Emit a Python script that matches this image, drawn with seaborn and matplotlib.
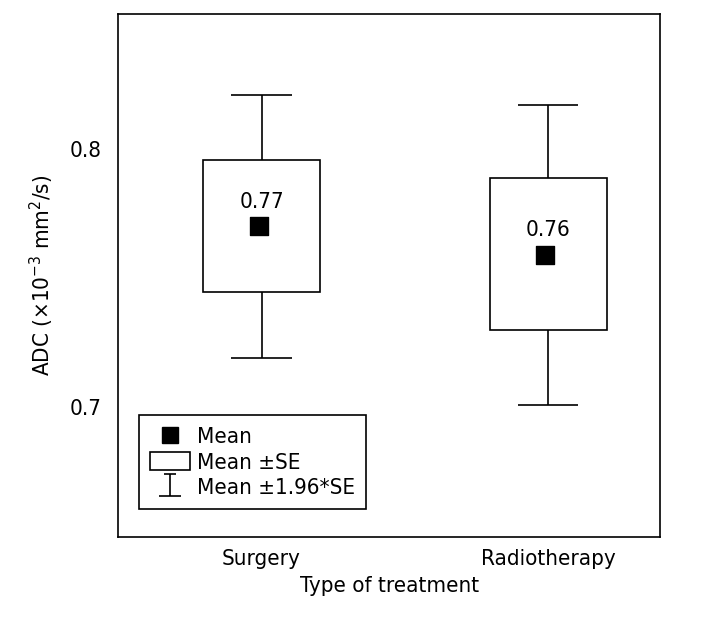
import matplotlib
matplotlib.use('Agg')

import numpy as np
import pandas as pd
import matplotlib.pyplot as plt
import seaborn as sns
from matplotlib.lines import Line2D
from matplotlib.patches import Patch
from matplotlib.path import Path

# -------------------------------
# DATA
# -------------------------------

treatments = ["Surgery", "Radiotherapy"]
means = [0.770, 0.759]
mean_labels = ["0.77", "0.76"]
se_low = [0.7446, 0.7298]
se_high = [0.7957, 0.7888]
ci_low = [0.7190, 0.7008]
ci_high = [0.8209, 0.8170]

df = pd.DataFrame({
    "treatment": treatments,
    "mean": means,
    "se_low": se_low,
    "se_high": se_high,
    "ci_low": ci_low,
    "ci_high": ci_high,
})

# -------------------------------
# STYLE
# -------------------------------

sns.set_theme(style="white")
plt.rcParams['font.family'] = ['DejaVu Sans']
plt.rcParams['font.stretch'] = 'condensed'
plt.rcParams['text.color'] = 'black'
plt.rcParams['axes.labelcolor'] = 'black'
plt.rcParams['axes.edgecolor'] = 'black'
plt.rcParams['axes.linewidth'] = 1.2

FS = 16

fig = plt.figure(figsize=(7.2, 6.24), dpi=100)
ax = fig.add_axes([0.164, 0.139, 0.753, 0.839])

x = np.arange(len(treatments))

# whiskers (mean +/- 1.96*SE)
ax.vlines(x, df["ci_low"], df["se_low"], color="black", lw=1.2)
ax.vlines(x, df["se_high"], df["ci_high"], color="black", lw=1.2)
ax.hlines(df["ci_low"], x - 0.105, x + 0.105, color="black", lw=1.2)
ax.hlines(df["ci_high"], x - 0.105, x + 0.105, color="black", lw=1.2)

# boxes (mean +/- SE)
ax.bar(x, df["se_high"] - df["se_low"], bottom=df["se_low"], width=0.41,
       color="white", edgecolor="black", linewidth=1.2, zorder=2)

# means
sns.scatterplot(x=x - 0.01, y=df["mean"], marker="s", s=150, color="black",
                edgecolor="black", ax=ax, zorder=3, legend=False)

for xi, m, lab in zip(x, df["mean"], mean_labels):
    ax.text(xi, m + 0.0055, lab, ha="center", va="bottom", fontsize=FS)

# -------------------------------
# AXES
# -------------------------------

ax.set_xlim(-0.5, 1.39)
ax.set_ylim(0.6496, 0.8523)
ax.set_xticks(x)
ax.set_xticklabels(treatments, fontsize=FS)
ax.set_yticks([0.7, 0.8])
ax.set_yticklabels(["0.7", "0.8"], fontsize=FS)
ax.tick_params(axis="y", direction="out", length=8, width=1.2, color="black")
ax.tick_params(axis="x", direction="out", length=5, width=1.2, color="black")
ax.tick_params(axis="both", colors="black", labelcolor="black")

ax.set_xlabel("Type of treatment", fontsize=FS, labelpad=5)
ax.set_ylabel("ADC (\u00d710$^{\u22123}$ mm$^{2}$/s)", fontsize=FS, labelpad=10)

for s in ax.spines.values():
    s.set_visible(True)
    s.set_color("black")

# -------------------------------
# LEGEND
# -------------------------------

# whisker symbol: short top cap, stem, long bottom cap
whisker_path = Path(
    [(-0.25, 0.5), (0.25, 0.5), (0, 0.5), (0, -0.5), (-0.5, -0.5), (0.5, -0.5)],
    [Path.MOVETO, Path.LINETO, Path.MOVETO, Path.LINETO, Path.MOVETO, Path.LINETO],
)

handles = [
    Line2D([], [], marker="s", linestyle="none", color="black",
           markersize=11),
    Patch(facecolor="white", edgecolor="black", linewidth=1.2),
    Line2D([], [], marker=whisker_path, linestyle="none",
           markerfacecolor="none", markeredgecolor="black",
           markeredgewidth=1.2, markersize=16),
]
labels = ["Mean", "Mean \u00b1SE", "Mean \u00b11.96*SE"]
leg = ax.legend(handles, labels, loc="lower left",
                bbox_to_anchor=(0.039, 0.054), borderaxespad=0,
                fontsize=FS, frameon=True, fancybox=False, edgecolor="black",
                framealpha=1, handlelength=1.8, handleheight=0.9,
                handletextpad=0.3, labelspacing=0.2, borderpad=0.5)
leg.get_frame().set_linewidth(1.2)

fig.savefig("out.png", dpi=100)
